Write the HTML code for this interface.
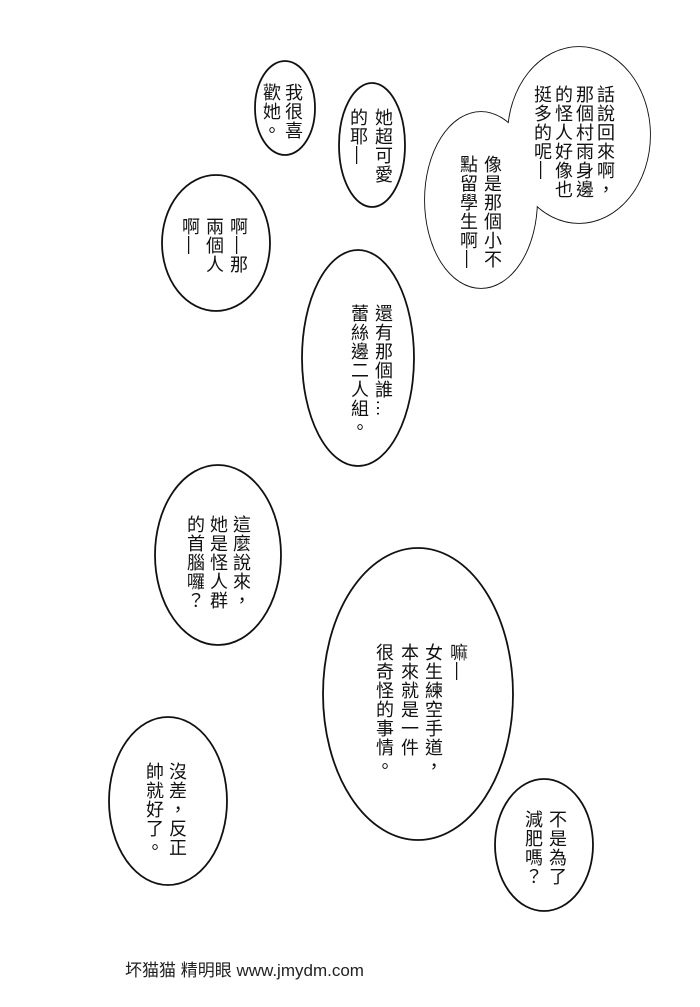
<!DOCTYPE html>
<html><head><meta charset="utf-8">
<style>
html,body{margin:0;padding:0;background:#fff;}
#p{position:relative;width:700px;height:1007px;overflow:hidden;background:#fff;}
svg{position:absolute;left:0;top:0;}
.c{position:absolute;writing-mode:vertical-rl;font-family:"Liberation Sans","Noto Sans CJK TC",sans-serif;font-size:18px;line-height:18px;letter-spacing:1px;color:#111;white-space:nowrap;}
.f{position:absolute;left:125px;top:956px;font-family:"Liberation Sans","Noto Sans CJK SC",sans-serif;font-size:17px;color:#222;white-space:nowrap;}
</style></head><body><div id="p">
<svg width="700" height="1007" fill="#fff" stroke="#111" stroke-width="1.8">
<ellipse cx="285" cy="108" rx="30" ry="47"/>
<ellipse cx="372" cy="145" rx="33" ry="62"/>
<ellipse cx="579" cy="135" rx="71" ry="88"/>
<ellipse cx="481" cy="200" rx="56" ry="88"/>
<ellipse cx="579" cy="135" rx="71" ry="88" stroke="none"/>
<ellipse cx="481" cy="200" rx="56" ry="88" stroke="none"/>
<ellipse cx="216" cy="243" rx="54" ry="68"/>
<ellipse cx="358" cy="358" rx="56" ry="108"/>
<ellipse cx="218" cy="555" rx="63" ry="90"/>
<ellipse cx="418" cy="694" rx="95" ry="146"/>
<ellipse cx="168" cy="801" rx="59" ry="84"/>
<ellipse cx="544" cy="845" rx="49" ry="66"/>
</svg>
<div class="c" style="left:284px;top:83px">我很喜</div>
<div class="c" style="left:262px;top:83px">歡她。</div>
<div class="c" style="left:374px;top:108px">她超可愛</div>
<div class="c" style="left:349px;top:108px">的耶—</div>
<div class="c" style="left:596px;top:85px">話說回來啊，</div>
<div class="c" style="left:575px;top:85px">那個村雨身邊</div>
<div class="c" style="left:554px;top:85px">的怪人好像也</div>
<div class="c" style="left:533px;top:85px">挺多的呢—</div>
<div class="c" style="left:483px;top:155px">像是那個小不</div>
<div class="c" style="left:459px;top:155px">點留學生啊—</div>
<div class="c" style="left:229px;top:217px">啊—那</div>
<div class="c" style="left:205px;top:217px">兩個人</div>
<div class="c" style="left:181px;top:217px">啊—</div>
<div class="c" style="left:374px;top:304px">還有那個誰…</div>
<div class="c" style="left:350px;top:304px">蕾絲邊二人組。</div>
<div class="c" style="left:232px;top:515px">這麼說來，</div>
<div class="c" style="left:209px;top:515px">她是怪人群</div>
<div class="c" style="left:186px;top:515px">的首腦囉？</div>
<div class="c" style="left:449px;top:643px">嘛—</div>
<div class="c" style="left:424px;top:643px">女生練空手道，</div>
<div class="c" style="left:400px;top:643px">本來就是一件</div>
<div class="c" style="left:375px;top:643px">很奇怪的事情。</div>
<div class="c" style="left:168px;top:762px">沒差，反正</div>
<div class="c" style="left:145px;top:762px">帥就好了。</div>
<div class="c" style="left:548px;top:810px">不是為了</div>
<div class="c" style="left:524px;top:810px">減肥嗎？</div>
<div class="f">坏猫猫 精明眼 www.jmydm.com</div>
</div></body></html>
